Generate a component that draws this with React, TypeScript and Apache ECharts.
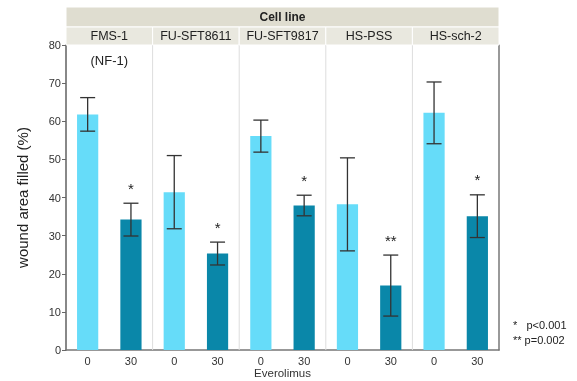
import React, { useEffect, useRef } from "react";
import * as echarts from "echarts";

const cellLines = ["FMS-1", "FU-SFT8611", "FU-SFT9817", "HS-PSS", "HS-sch-2"];
const notes = ["(NF-1)", "", "", "", ""];
const doses = ["0", "30"];
const controlMeans = [61.8, 41.4, 56.1, 38.2, 62.2];
const controlErr = [4.4, 9.6, 4.2, 12.2, 8.1];
const treatedMeans = [34.2, 25.3, 37.9, 16.9, 35.1];
const treatedErr = [4.3, 3.0, 2.7, 8.0, 5.6];
const significance = ["*", "*", "*", "**", "*"];
const yTicks = { min: 0, max: 80, interval: 10 };

const LIGHT = "#66DCF9";
const DARK = "#0A87A9";
const FONT = "'Liberation Sans', Arial, Helvetica, sans-serif";

export default function App() {
  const ref = useRef<HTMLDivElement>(null);
  useEffect(() => {
    if (!ref.current) return;
    const chart = echarts.init(ref.current, undefined, { renderer: "svg" });

    const xLabels: string[] = [];
    const barData: any[] = [];
    const errData: any[] = [];
    cellLines.forEach((_, i) => {
      xLabels.push(doses[0], doses[1]);
      barData.push({ value: controlMeans[i], itemStyle: { color: LIGHT } });
      barData.push({ value: treatedMeans[i], itemStyle: { color: DARK } });
      errData.push([2 * i, controlMeans[i], controlErr[i], ""]);
      errData.push([2 * i + 1, treatedMeans[i], treatedErr[i], significance[i]]);
    });

    const option: any = {
      animation: false,
      grid: { left: 66, right: 78, top: 45, bottom: 31, outerBoundsMode: "none", containLabel: false },
      xAxis: [
        {
          type: "category",
          data: xLabels,
          axisLine: { lineStyle: { color: "#777", width: 1.5 } },
          axisTick: { show: false },
          axisLabel: { color: "#333", fontSize: 11, margin: 5, fontFamily: FONT },
          name: "Everolimus",
          nameLocation: "middle",
          nameGap: 17,
          nameMoveOverlap: false,
          nameTextStyle: { color: "#333", fontSize: 11.5, fontFamily: FONT },
        },
      ],
      yAxis: [
        {
          type: "value",
          min: yTicks.min,
          max: yTicks.max,
          interval: yTicks.interval,
          axisLine: { show: true, lineStyle: { color: "#888", width: 2 } },
          axisTick: { show: true, length: 4, lineStyle: { color: "#666" } },
          splitLine: { show: false },
          axisLabel: { color: "#333", fontSize: 11, margin: 5, fontFamily: FONT },
          name: "wound area filled (%)",
          nameLocation: "middle",
          nameRotate: 90,
          nameGap: 36,
          nameMoveOverlap: false,
          nameTextStyle: { color: "#222", fontSize: 15, fontFamily: FONT },
        },
        {
          type: "value",
          position: "right",
          min: yTicks.min,
          max: yTicks.max,
          interval: yTicks.interval,
          axisLine: { show: true, lineStyle: { color: "#777", width: 1.5 } },
          axisTick: { show: false },
          axisLabel: { show: false },
          splitLine: { show: false },
        },
      ],
      series: [
        {
          type: "custom",
          z: 1,
          clip: false,
          data: cellLines.map((_, i) => [2 * i, 0]),
          encode: { x: 0, y: 1 },
          renderItem: (params: any, api: any) => {
            const i = params.dataIndex;
            const cs = params.coordSys;
            const band = api.size([1, 0])[0];
            const cx = api.coord([api.value(0), 0])[0];
            const x0 = cx - band / 2;
            const w = band * 2;
            const children: any[] = [];
            if (i === 0) {
              children.push({
                type: "rect",
                shape: { x: cs.x, y: cs.y - 38, width: cs.width, height: 20 },
                style: { fill: "#DFDDD0", stroke: "#fff", lineWidth: 1 },
              });
              children.push({
                type: "text",
                style: {
                  text: "Cell line",
                  x: cs.x + cs.width / 2,
                  y: cs.y - 28,
                  align: "center",
                  verticalAlign: "middle",
                  fill: "#222",
                  font: `bold 12px ${FONT}`,
                },
              });
            }
            children.push({
              type: "rect",
              shape: { x: x0, y: cs.y - 18, width: w, height: 18 },
              style: { fill: "#E9E8DF", stroke: "#fff", lineWidth: 1 },
            });
            children.push({
              type: "text",
              style: {
                text: cellLines[i],
                x: x0 + w / 2,
                y: cs.y - 9,
                align: "center",
                verticalAlign: "middle",
                fill: "#222",
                font: `12.5px ${FONT}`,
              },
            });
            if (notes[i]) {
              children.push({
                type: "text",
                style: {
                  text: notes[i],
                  x: x0 + w / 2,
                  y: cs.y + 15,
                  align: "center",
                  verticalAlign: "middle",
                  fill: "#222",
                  font: `13px ${FONT}`,
                },
              });
            }
            if (i < cellLines.length - 1) {
              children.push({
                type: "line",
                shape: { x1: x0 + w, y1: cs.y, x2: x0 + w, y2: cs.y + cs.height },
                style: { stroke: "#DDDDDD", lineWidth: 1 },
              });
            }
            return { type: "group", children };
          },
        },
        {
          type: "bar",
          z: 2,
          data: barData,
          barWidth: "49%",
        },
        {
          type: "custom",
          z: 3,
          data: errData,
          encode: { x: 0, y: 1 },
          renderItem: (params: any, api: any) => {
            const x = api.value(0);
            const m = api.value(1);
            const e = api.value(2);
            const sig = errData[params.dataIndex][3];
            const top = api.coord([x, m + e]);
            const bot = api.coord([x, m - e]);
            const hw = 7.5;
            const st = { stroke: "#333", lineWidth: 1.3 };
            const children: any[] = [
              { type: "line", shape: { x1: top[0], y1: top[1], x2: bot[0], y2: bot[1] }, style: st },
              { type: "line", shape: { x1: top[0] - hw, y1: top[1], x2: top[0] + hw, y2: top[1] }, style: st },
              { type: "line", shape: { x1: bot[0] - hw, y1: bot[1], x2: bot[0] + hw, y2: bot[1] }, style: st },
            ];
            if (sig) {
              children.push({
                type: "text",
                style: {
                  text: sig,
                  x: top[0],
                  y: top[1] - 15,
                  align: "center",
                  verticalAlign: "middle",
                  fill: "#222",
                  font: `15px ${FONT}`,
                },
              });
            }
            return { type: "group", children };
          },
        },
      ],
      graphic: [
        {
          type: "text",
          left: 513,
          top: 317,
          style: {
            text: "*   p<0.001\n** p=0.002",
            font: `11px ${FONT}`,
            lineHeight: 15,
            fill: "#222",
          },
        },
      ],
    };
    chart.setOption(option);
    return () => chart.dispose();
  }, []);
  return (
    <div
      ref={ref}
      style={{ position: "fixed", left: 0, top: 0, width: 577, height: 381 }}
    />
  );
}
